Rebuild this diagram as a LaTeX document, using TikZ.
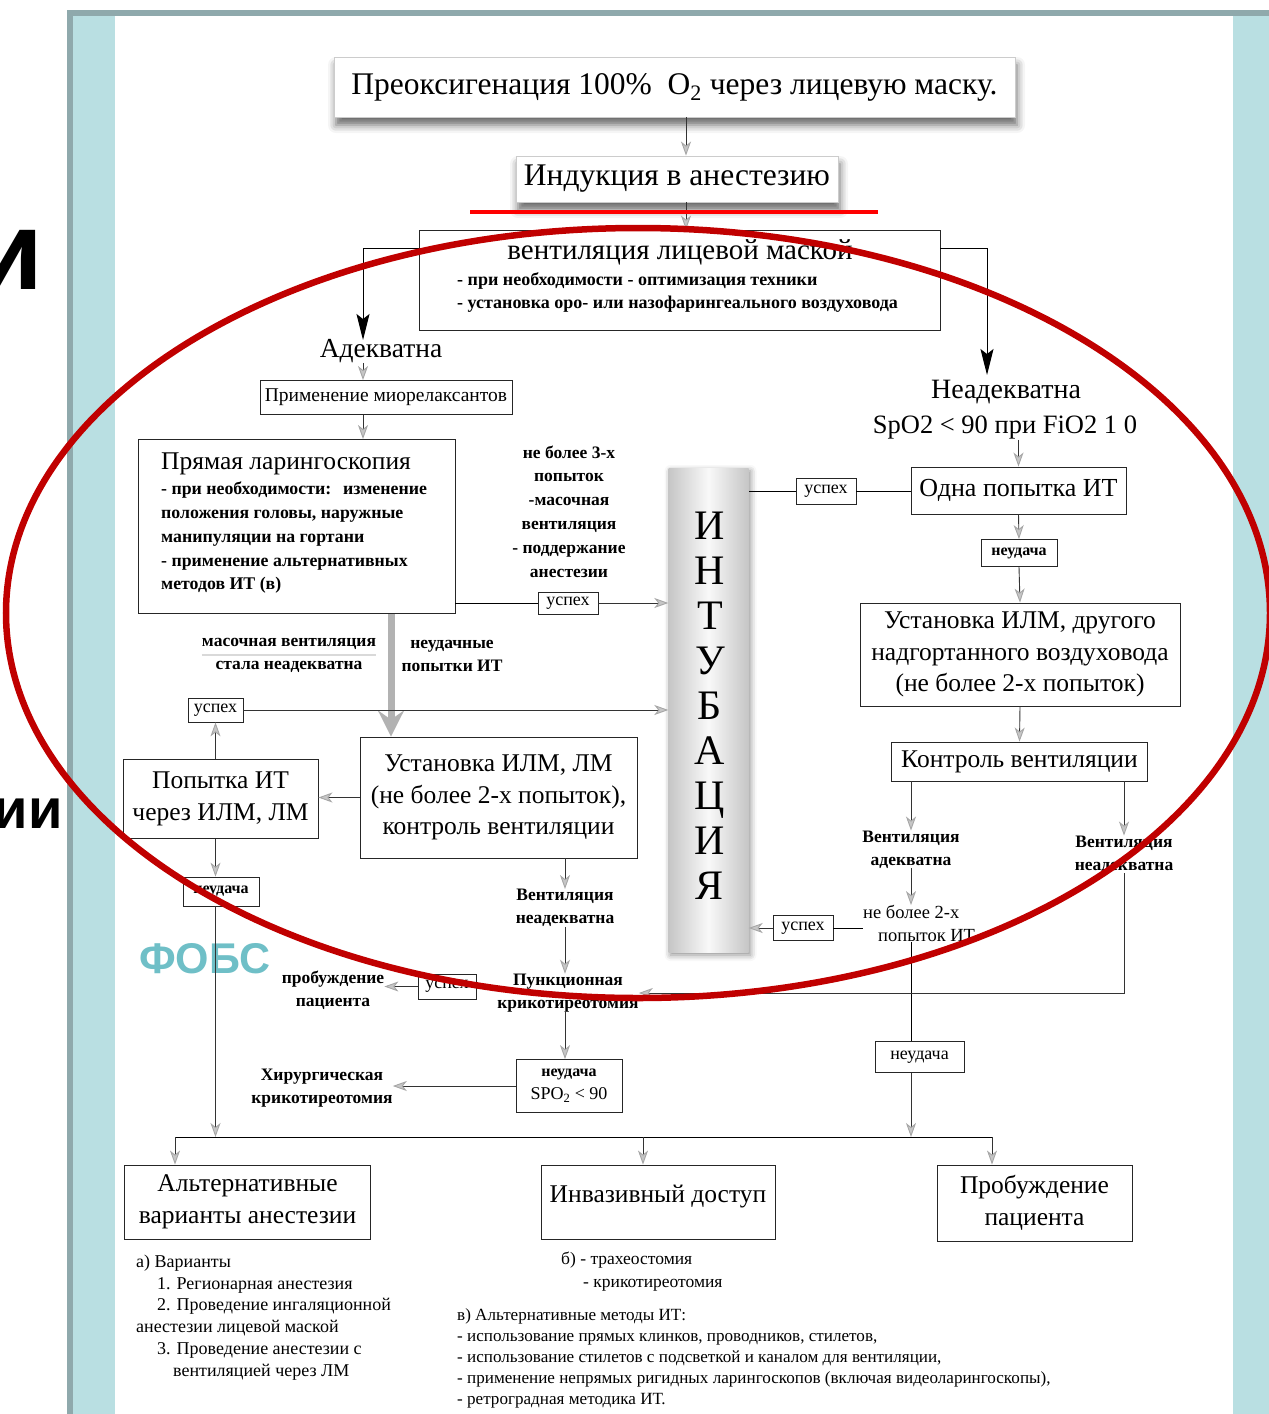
\documentclass[tikz,border=0pt]{standalone}
\usepackage{fontspec}
\setmainfont{Liberation Serif}
\newfontfamily\slidefont{Liberation Sans}
\usetikzlibrary{arrows.meta,shadows.blur}
\definecolor{framegray}{HTML}{8FA9AC}
\definecolor{frameteal}{HTML}{B9DFE2}
\definecolor{fobsteal}{HTML}{6FBFC7}
\definecolor{ovalred}{HTML}{C00000}
\definecolor{linered}{HTML}{FF0000}
\newcommand{\fs}[2]{\fontsize{#1pt}{#2pt}\selectfont}

\begin{document}
\begin{tikzpicture}[x=1pt, y=-1pt,
box/.style={draw=black!85, line width=0.9pt, fill=white, inner sep=0pt, align=center},
shbox/.style={box, draw=gray!40, blur shadow={shadow xshift=2pt, shadow yshift=-8pt, shadow blur radius=8pt, shadow opacity=60}},
big/.style={font=\fs{25.5}{31.5}},
tag/.style={box, line width=0.8pt, font=\fs{16}{19}\bfseries},
oktag/.style={box, line width=0.8pt, font=\fs{18}{20}},
lbl/.style={inner sep=0pt, align=center, font=\fs{17.5}{23}\bfseries},
note/.style={anchor=west, inner sep=0pt, align=left},
arr/.style={draw=black!80, line width=0.9pt, -{Stealth[length=14pt, width=10pt, inset=4pt, color=gray!70, fill=gray!45]}},
bigblk/.style={draw=black, line width=1pt, -{Stealth[length=26pt, width=13pt, inset=5pt]}},
thickarr/.style={draw=gray!60, line width=7pt, -{Stealth[length=26pt, width=26pt, inset=9pt]}}]
\useasboundingbox (0,0) rectangle (1269,1414);

% slide frame
\fill[framegray] (67,10) rectangle (1269,16);
\fill[framegray] (67,10) rectangle (73,1414);
\fill[frameteal] (73,16) rectangle (115,1414);
\fill[frameteal] (1233,16) rectangle (1269,1414);
\node[anchor=base east, inner sep=0pt, font=\slidefont\bfseries\fs{112}{112}] (title1) at (44,289) {и};
\node[anchor=base east, inner sep=0pt, font=\slidefont\bfseries\fs{56}{56}] (title2) at (63,828) {зии};
\node[inner sep=0pt, text=fobsteal, font=\slidefont\bfseries\fs{43}{43}] (fobs) at (205,959) {ФОБС};

% helper columns
\coordinate (c1) at (686,0);
\coordinate (lcol) at (363,340);
\coordinate (rcol) at (987,375);
\coordinate (bcol) at (391,0);
\coordinate (icol) at (643,0);
\coordinate (busL) at (175,1137);
\coordinate (busR) at (992,1137);

% top
\node[shbox, minimum width=681, minimum height=60, font=\fs{31.5}{34}] (pre) at (674.5,87) {Преоксигенация 100\%~ O\textsubscript{2} через лицевую маску.};
\node[shbox, minimum width=322, minimum height=46, font=\fs{31.5}{34}] (ind) at (677,179) {Индукция в анестезию};
\node[box, minimum width=521, minimum height=100] (vent) at (679.5,280) {};
\node[inner sep=0pt, font=\fs{29}{32}] (venttitle) at (680,252) {вентиляция лицевой маской};
\node[note, font=\fs{18}{23}\bfseries] (ventl) at (457,292.5) {- при необходимости - оптимизация техники\\- установка оро- или назофарингеального воздуховода};
\node[inner sep=0pt, font=\fs{27.5}{30}] (adeq) at (381,351) {Адекватна};
\node[inner sep=0pt, font=\fs{28}{30}] (inad) at (1006,392) {Неадекватна};
\node[inner sep=0pt, font=\fs{26.5}{30}] (spo) at (1005,428) {SpO2 < 90 при FiO2 1 0};

% left branch
\node[box, minimum width=252, minimum height=34, font=\fs{19.5}{22}] (mio) at (386,397.5) {Применение миорелаксантов};
\node[box, minimum width=317, minimum height=174] (pryam) at (296.5,526.5) {};
\node[anchor=west, inner sep=0pt, font=\fs{25.5}{30}] (pryamt) at (161,464) {Прямая ларингоскопия};
\node[note, font=\fs{17.8}{23.75}\bfseries] (pryaml) at (161,538) {- при необходимости:\hspace{12pt}изменение\\положения головы, наружные\\манипуляции на гортани\\- применение альтернативных\\методов ИТ (в)};
\node[lbl, font=\fs{17.5}{23.8}\bfseries] (try3) at (569,511.5) {не более 3-х\\попыток\\-масочная\\вентиляция\\- поддержание\\анестезии};
\node[oktag, minimum width=60, minimum height=22] (ok1) at (568,603) {успех};
\node[lbl] (mask) at (289,655) {масочная вентиляция\\стала неадекватна};
\node[lbl] (failt) at (452,655.5) {неудачные\\попытки ИТ};
\node[oktag, minimum width=55, minimum height=24] (ok4) at (215.5,710) {успех};
\node[box, big, minimum width=195, minimum height=79] (tryilm) at (220.5,799) {Попытка ИТ\\через ИЛМ, ЛМ};
\node[box, big, minimum width=277, minimum height=121] (ilm1) at (498.5,797.5) {Установка ИЛМ, ЛМ\\(не более 2-х попыток),\\контроль вентиляции};
\node[tag, minimum width=76, minimum height=29] (fail3) at (221,891.5) {неудача};
\node[lbl] (vinad1) at (565,908) {Вентиляция\\неадекватна};
\node[lbl] (punk) at (568,993) {Пункционная\\крикотиреотомия};
\node[oktag, minimum width=58, minimum height=25] (ok5) at (447,986.5) {успех};
\node[lbl] (wake1) at (333,990.5) {пробуждение\\пациента};
\node[box, line width=0.8pt, minimum width=106, minimum height=53, font=\fs{18}{23}] (fail4) at (569,1086) {{\bfseries\fs{16}{23}неудача}\\SPO\textsubscript{2} < 90};
\node[lbl] (surg) at (322,1088.5) {Хирургическая\\крикотиреотомия};

% intubation bar
\node[draw=none, inner sep=0pt, minimum width=80, minimum height=484, left color=gray!45, right color=gray!45, middle color=gray!5, blur shadow={shadow xshift=2pt, shadow yshift=-3pt, shadow blur radius=6pt, shadow opacity=45}] (intbar) at (708.5,710) {};
\node[inner sep=0pt, align=center, font=\fs{42}{45}] (intlet) at (710,706) {И\\Н\\Т\\У\\Б\\А\\Ц\\И\\Я};

% right branch
\node[box, minimum width=215, minimum height=47, font=\fs{26}{30}] (one) at (1018.5,490.5) {Одна попытка ИТ};
\node[oktag, minimum width=60, minimum height=26] (ok2) at (826,491) {успех};
\node[tag, minimum width=76, minimum height=27] (fail1) at (1019,553) {неудача};
\node[box, big, minimum width=320, minimum height=103] (ilm2) at (1020,654.5) {Установка ИЛМ, другого\\надгортанного воздуховода\\(не более 2-х попыток)};
\node[box, minimum width=256, minimum height=39, font=\fs{25.5}{30}] (ctrl) at (1019.5,761.5) {Контроль вентиляции};
\node[lbl] (vadeq) at (911,849.5) {Вентиляция\\адекватна};
\node[lbl] (vinad2) at (1124,854.5) {Вентиляция\\неадекватна};
\node[note, font=\fs{18.5}{23}] (two) at (863,923.5) {не более 2-х\\\hspace*{15pt}попыток ИТ};
\node[oktag, minimum width=60, minimum height=25] (ok3) at (803,928) {успех};
\node[box, line width=0.8pt, minimum width=89, minimum height=31, font=\fs{18}{20}] (fail2) at (919.5,1057) {неудача};

% bottom
\node[box, big, minimum width=246, minimum height=74] (alt) at (247.5,1202) {Альтернативные\\варианты анестезии};
\node[box, minimum width=234, minimum height=74, font=\fs{25.5}{30}] (inv) at (658,1202) {\smash{Инвазивный доступ}};
\node[box, big, minimum width=195, minimum height=76] (wake2) at (1034.5,1203) {Пробуждение\\пациента};
\node[note, font=\fs{18}{21.8}] (notea) at (136,1317.5) {а) Варианты\\\hspace*{21pt}1. Регионарная анестезия\\\hspace*{21pt}2. Проведение ингаляционной\\анестезии лицевой маской\\\hspace*{21pt}3. Проведение анестезии с\\\hspace*{37pt}вентиляцией через ЛМ};
\node[note, font=\fs{17.5}{23}] (noteb) at (561,1271.5) {б) - трахеостомия\\\hspace*{22pt}- крикотиреотомия};
\node[note, font=\fs{17.1}{21}] (notec) at (457,1358) {в) Альтернативные методы ИТ:\\- использование прямых клинков, проводников, стилетов,\\- использование стилетов с подсветкой и каналом для вентиляции,\\- применение непрямых ригидных ларингоскопов (включая видеоларингоскопы),\\- ретроградная методика ИТ.};

% connectors
\draw[arr] (c1 |- pre.south) -- (c1 |- ind.north);
\draw[arr] (c1 |- ind.south) -- (c1 |- vent.north);
\draw[bigblk] ([yshift=-19pt]vent.north west) -| (lcol);
\draw[bigblk] ([yshift=-19pt]vent.north east) -| (rcol);
\draw[arr] (lcol |- adeq.south) -- (lcol |- mio.north);
\draw[arr] (lcol |- mio.south) -- (lcol |- pryam.north);
\draw (ok1.west -| pryam.east) -- (ok1.west);
\draw[arr] (ok1.east) -- (ok1.east -| intbar.west);
\draw[gray!30, line width=2.5pt] (mask.west) -- (mask.east);
\draw[thickarr] (bcol |- pryam.south) -- (bcol |- ilm1.north);
\draw[arr] (ok4.east) -- (ok4.east -| intbar.west);
\draw[arr] (ok4.south |- tryilm.north) -- (ok4.south);
\draw[arr] (ilm1.west) -- (ilm1.west -| tryilm.east);
\draw[arr] (ok4.south |- tryilm.south) -- (ok4.south |- fail3.north);
\draw[arr] (ok4.south |- fail3.south) -- (ok4.south |- busL);
\draw[arr] (vinad1.north |- ilm1.south) -- (vinad1.north);
\draw[arr] (vinad1.south) -- (vinad1.south |- punk.north);
\draw (punk.west |- ok5.east) -- (ok5.east);
\draw[arr] (ok5.west) -- (ok5.west -| wake1.east);
\draw[arr] (vinad1.south |- punk.south) -- (vinad1.south |- fail4.north);
\draw[arr] (fail4.west) -- (fail4.west -| surg.east);
\draw[arr] (spo.south -| one.north) -- (one.north);
\draw (one.west |- ok2.east) -- (ok2.east);
\draw (ok2.west) -- (ok2.west -| intbar.east);
\draw[arr] (one.south) -- (fail1.north);
\draw[arr] (fail1.south) -- (ilm2.north);
\draw[arr] (ilm2.south) -- (ctrl.north);
\draw[arr] (vadeq.north |- ctrl.south) -- (vadeq.north);
\draw[arr] (vinad2.north |- ctrl.south) -- (vinad2.north);
\draw[arr] (vadeq.south) -- (vadeq.south |- two.north);
\draw (ok3.east) -- (ok3.east -| two.west);
\draw[arr] (ok3.west) -- (ok3.west -| intbar.east);
\draw (vadeq.south |- two.south) -- (vadeq.south |- fail2.north);
\draw[arr] (vadeq.south |- fail2.south) -- (vadeq.south |- busR);
\draw[arr] (vinad2.south) |- (punk.east);
\draw (busL) -- (busR);
\draw[arr] (busL) -- (busL |- alt.north);
\draw[arr] (icol |- busL) -- (icol |- inv.north);
\draw[arr] (busR) -- (busR |- wake2.north);

% marks on the slide
\draw[linered, line width=4pt] (470,212) -- (878,212);
\draw[ovalred, line width=6.5pt] (638,613) ellipse [x radius=632, y radius=385];
\end{tikzpicture}
\end{document}
